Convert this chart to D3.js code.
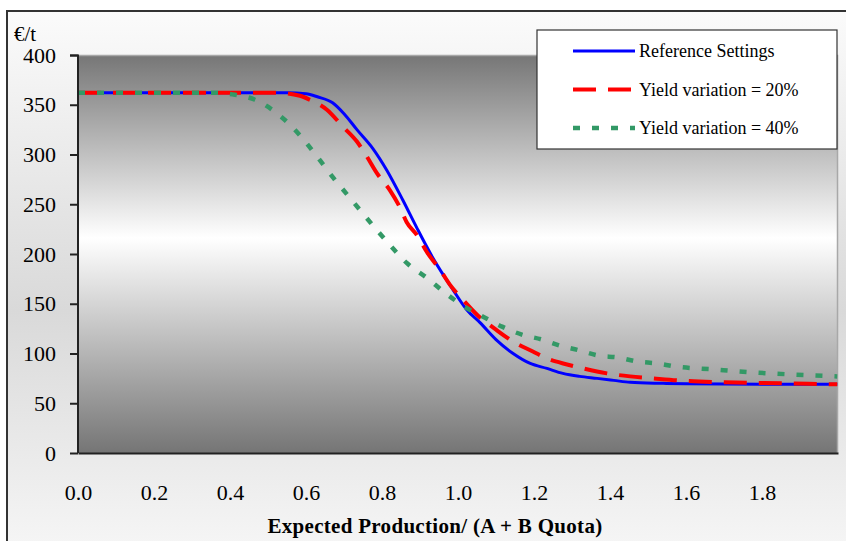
<!DOCTYPE html>
<html>
<head>
<meta charset="utf-8">
<script src="https://cdn.jsdelivr.net/npm/d3@7"></script>
<style>
  body { margin: 0; background: #fff; }
  text { font-family: "Liberation Serif", "Times New Roman", serif; fill: #000; }
</style>
</head>
<body>
<div id="wrapper"></div>
<script>
// series values (x = production / quota, y = €/t)
const refX = [0, 0.55, 0.6, 0.63, 0.67, 0.7, 0.734, 0.776, 0.813, 0.855, 0.892, 0.934, 0.987, 1.023, 1.058, 1.1, 1.145, 1.19, 1.234, 1.276, 1.32, 1.366, 1.41, 1.453, 1.54, 1.6, 1.8, 1.998]
const refY = [362, 362, 361, 358, 352, 341, 325, 306, 284, 254, 226, 196, 164, 144, 131, 114, 100, 90, 85, 80, 77, 75, 73, 71, 70, 69.5, 69, 69]

const var20X = [0, 0.52, 0.584, 0.61, 0.655, 0.697, 0.734, 0.76, 0.787, 0.821, 0.847, 0.865, 0.892, 0.918, 0.953, 0.979, 1.013, 1.05, 1.1, 1.145, 1.197, 1.234, 1.287, 1.329, 1.392, 1.453, 1.513, 1.576, 1.7, 1.85, 1.998]
const var20Y = [362, 362, 359, 355, 345, 328, 313, 298, 281, 264, 247, 232, 219, 202, 184, 169, 154, 139, 124, 112, 102, 95, 89, 85, 80, 77, 75, 73, 71, 70, 69]

const var40X = [0, 0.36, 0.413, 0.466, 0.518, 0.563, 0.6, 0.637, 0.671, 0.71, 0.747, 0.782, 0.821, 0.865, 0.918, 0.966, 1.013, 1.066, 1.116, 1.168, 1.221, 1.268, 1.321, 1.368, 1.421, 1.471, 1.524, 1.571, 1.671, 1.774, 1.874, 1.998]
const var40Y = [362, 362, 360, 355, 343, 328, 312, 294, 277, 259, 242, 226, 209, 191, 176, 161, 148, 137, 127, 119, 114, 108, 103, 98, 96, 92, 90, 87, 84, 81, 79, 77]

const xTicks = [0, 0.2, 0.4, 0.6, 0.8, 1.0, 1.2, 1.4, 1.6, 1.8]
const yTicks = [0, 50, 100, 150, 200, 250, 300, 350, 400]
const seriesNames = ["Reference Settings", "Yield variation = 20%", "Yield variation = 40%"]

const dimensions = {
    width: 846,
    height: 541,
    margin: { top: 55, right: 8, bottom: 88, left: 78 },
}
dimensions.boundedWidth = dimensions.width - dimensions.margin.left - dimensions.margin.right
dimensions.boundedHeight = dimensions.height - dimensions.margin.top - dimensions.margin.bottom

const svg = d3.select("#wrapper")
    .append("svg")
    .attr("width", dimensions.width)
    .attr("height", dimensions.height)

const defs = svg.append("defs")
const outerGrad = defs.append("linearGradient")
    .attr("id", "outerGrad").attr("x1", 0).attr("y1", 0).attr("x2", 0).attr("y2", 1)
outerGrad.append("stop").attr("offset", "0%").attr("stop-color", "#fbfbfb")
outerGrad.append("stop").attr("offset", "50%").attr("stop-color", "#d9d9d9")
outerGrad.append("stop").attr("offset", "100%").attr("stop-color", "#fdfdfd")

const plotGrad = defs.append("linearGradient")
    .attr("id", "plotGrad").attr("x1", 0).attr("y1", 0).attr("x2", 0).attr("y2", 1)
plotGrad.append("stop").attr("offset", "0%").attr("stop-color", "#767676")
plotGrad.append("stop").attr("offset", "46%").attr("stop-color", "#ffffff")
plotGrad.append("stop").attr("offset", "100%").attr("stop-color", "#757575")

// chart area background + frame
svg.append("rect")
    .attr("x", 7).attr("y", 11)
    .attr("width", 900).attr("height", 600)
    .attr("fill", "url(#outerGrad)")
    .attr("stroke", "#333")
    .attr("stroke-width", 2)

const bounds = svg.append("g")
    .attr("transform", `translate(${dimensions.margin.left},${dimensions.margin.top})`)

const xScaler = d3.scaleLinear()
    .domain([0, 2])
    .range([0, dimensions.boundedWidth])

const yScaler = d3.scaleLinear()
    .domain([0, 400])
    .range([dimensions.boundedHeight, 0])

// plot area
bounds.append("rect")
    .attr("width", dimensions.boundedWidth)
    .attr("height", dimensions.boundedHeight)
    .attr("fill", "url(#plotGrad)")
bounds.append("path")
    .attr("d", `M0,0.5H${dimensions.boundedWidth - 0.5}V${dimensions.boundedHeight}`)
    .attr("fill", "none")
    .attr("stroke", "#a8a8a8")
    .attr("stroke-width", 1.5)

// lines
const lineGen = d3.line()
    .x(d => xScaler(d[0]))
    .y(d => yScaler(d[1]))
    .curve(d3.curveMonotoneX)

const series = [
    { name: seriesNames[0], pts: d3.zip(refX, refY), color: "#0000ff", width: 3, dash: null },
    { name: seriesNames[1], pts: d3.zip(var20X, var20Y), color: "#ff0000", width: 4, dash: "23,12" },
    { name: seriesNames[2], pts: d3.zip(var40X, var40Y), color: "#339966", width: 4.5, dash: "7,12" },
]

bounds.append("g")
    .selectAll("path")
    .data(series)
    .enter()
    .append("path")
    .attr("d", d => lineGen(d.pts))
    .attr("fill", "none")
    .attr("stroke", d => d.color)
    .attr("stroke-width", d => d.width)
    .attr("stroke-dasharray", d => d.dash)

// y axis
const yAxisGen = d3.axisLeft(yScaler)
    .tickValues(yTicks)
    .tickSize(8)
    .tickPadding(14)
const yAxis = bounds.append("g").call(yAxisGen)
yAxis.select(".domain").attr("stroke", "#222").attr("stroke-width", 2).attr("d", `M-8,0.5H0V${dimensions.boundedHeight}`)
yAxis.selectAll(".tick line").attr("stroke", "#222").attr("stroke-width", 2)
yAxis.selectAll(".tick text")
    .attr("font-family", "Liberation Serif, serif")
    .attr("font-size", "22px")
    .attr("fill", "#000")

// x axis: labels only, no tick marks
const xAxisGen = d3.axisBottom(xScaler)
    .tickValues(xTicks)
    .tickFormat(d3.format(".1f"))
    .tickSize(0)
    .tickPadding(31)
const xAxis = bounds.append("g")
    .attr("transform", `translate(0,${dimensions.boundedHeight})`)
    .call(xAxisGen)
xAxis.select(".domain").attr("stroke", "#222").attr("stroke-width", 2)
xAxis.selectAll(".tick text")
    .attr("font-family", "Liberation Serif, serif")
    .attr("font-size", "22px")
    .attr("fill", "#000")

// labels
svg.append("text")
    .attr("x", 14)
    .attr("y", 41)
    .attr("font-size", "21px")
    .text("€/t")

svg.append("text")
    .attr("x", 435)
    .attr("y", 533)
    .attr("text-anchor", "middle")
    .attr("font-size", "21px")
    .attr("font-weight", "bold")
    .attr("letter-spacing", "0.3px")
    .text("Expected Production/ (A + B Quota)")

// legend
const legend = svg.append("g").attr("transform", "translate(537,30)")
legend.append("rect")
    .attr("width", 300)
    .attr("height", 119)
    .attr("fill", "#fff")
    .attr("stroke", "#333")
    .attr("stroke-width", 1.2)

const legendRows = legend.selectAll("g.row")
    .data(series)
    .enter()
    .append("g")
    .attr("class", "row")
    .attr("transform", (d, i) => `translate(0,${21 + i * 38.5})`)
legendRows.append("line")
    .attr("x1", 36).attr("x2", 98)
    .attr("stroke", d => d.color)
    .attr("stroke-width", d => d.width)
    .attr("stroke-dasharray", d => d.dash)
legendRows.append("text")
    .attr("x", 102)
    .attr("y", 6)
    .attr("font-size", "18px")
    .text(d => d.name)
</script>
</body>
</html>
